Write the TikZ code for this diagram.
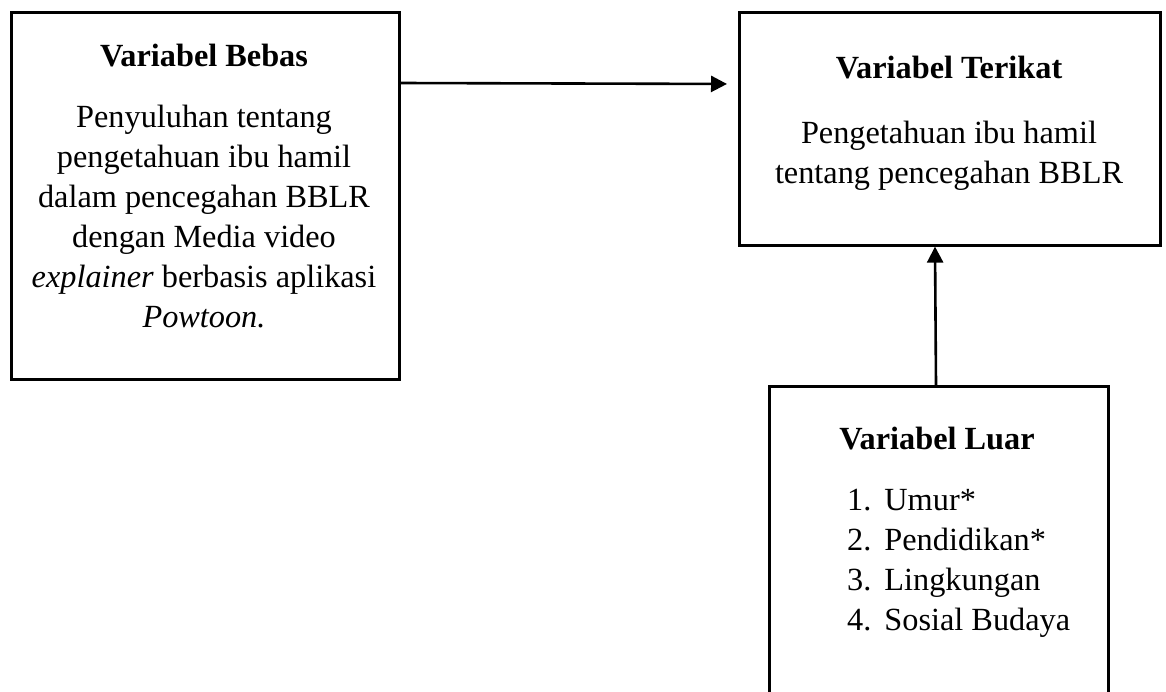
\documentclass[tikz,border=0pt]{standalone}
\usepackage{fontspec}
\setmainfont{Liberation Serif}
\usetikzlibrary{arrows.meta}
\tikzset{
  box/.style={draw=black, line width=2.6pt, inner sep=0pt, anchor=north west},
  conn/.style={line width=2.6pt, -{Triangle[length=16pt,width=16pt]}},
  txt/.style={inner sep=0pt, font=\fontsize{32.3}{40}\selectfont},
  ttl/.style={txt, font=\fontsize{32.3}{40}\selectfont\bfseries, anchor=base}
}
\begin{document}
\begin{tikzpicture}[x=1pt,y=-1pt]
\useasboundingbox (0,0) rectangle (1166,691);
\clip (0,0) rectangle (1166,691);
% boxes
\node[box, minimum width=388pt, minimum height=367pt] (bebas) at (10,11) {};
\node[box, minimum width=421pt, minimum height=233pt] (terikat) at (738,11) {};
\node[box, minimum width=339pt, minimum height=330pt] (luar) at (768,385) {};
% texts
\node[ttl] (t1) at (204,66) {Variabel Bebas};
\node[txt, anchor=north] (b1) at (204,99) {\begin{tabular}{@{}c@{}}
Penyuluhan tentang\\
pengetahuan ibu hamil\\
dalam pencegahan BBLR\\
dengan Media video\\
\textit{explainer} berbasis aplikasi\\
\textit{Powtoon.}
\end{tabular}};
\node[ttl] (t2) at (949,78) {Variabel Terikat};
\node[txt, anchor=north] (b2) at (949,115) {\begin{tabular}{@{}c@{}}
Pengetahuan ibu hamil\\
tentang pencegahan BBLR
\end{tabular}};
\node[ttl] (t3) at (937,449) {Variabel Luar};
\node[txt, anchor=north west] (b3) at (847,482) {\begin{tabular}{@{}r@{\hspace{13pt}}l@{}}
1. & Umur*\\
2. & Pendidikan*\\
3. & Lingkungan\\
4. & Sosial Budaya
\end{tabular}};
% connectors
\draw[conn, shorten >=11pt] (bebas.east |- 0,83) -- (terikat.west |- 0,84);
\draw[conn] (luar.north -| 936,0) -- (terikat.south -| 935,0);
\end{tikzpicture}
\end{document}
